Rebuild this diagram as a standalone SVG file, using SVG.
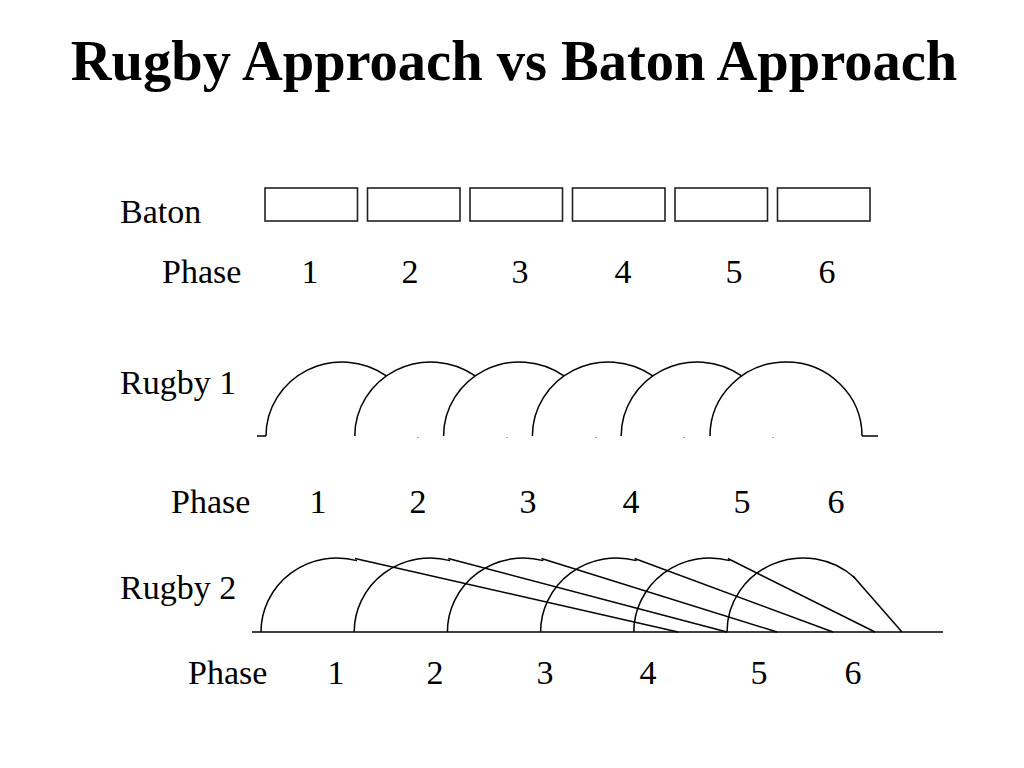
<svg xmlns="http://www.w3.org/2000/svg" width="1024" height="768" viewBox="0 0 1024 768">
<style>
.t{font-family:"Liberation Serif","Times New Roman",serif;fill:#000}
.title{font-size:56.5px;font-weight:bold}
.lbl{font-size:34px}
.num{font-size:34px;text-anchor:middle}
.box{fill:#fff;stroke:#222;stroke-width:1.6}
.ln{fill:none;stroke:#000;stroke-width:1.5}
.dot{stroke:#aaa;stroke-width:1}
</style>
<rect width="1024" height="768" fill="#fff"/>
<g id="title"><text class="t title" x="514" y="80" text-anchor="middle">Rugby Approach vs Baton Approach</text></g>

<g id="baton">
<text class="t lbl" x="120" y="223">Baton</text>
<g id="baton-1"><rect class="box" x="265" y="188" width="92.5" height="33"/></g>
<g id="baton-2"><rect class="box" x="367.5" y="188" width="92.5" height="33"/></g>
<g id="baton-3"><rect class="box" x="470" y="188" width="92.5" height="33"/></g>
<g id="baton-4"><rect class="box" x="572.5" y="188" width="92.5" height="33"/></g>
<g id="baton-5"><rect class="box" x="675" y="188" width="92.5" height="33"/></g>
<g id="baton-6"><rect class="box" x="777.5" y="188" width="92.5" height="33"/></g>
<g id="phase-row-1">
<text class="t lbl" x="162" y="283">Phase</text>
<text class="t num" x="310" y="283">1</text>
<text class="t num" x="410" y="283">2</text>
<text class="t num" x="520" y="283">3</text>
<text class="t num" x="623" y="283">4</text>
<text class="t num" x="734" y="283">5</text>
<text class="t num" x="827" y="283">6</text>
</g>
</g>

<g id="rugby1">
<text class="t lbl" x="120" y="394">Rugby 1</text>
<g id="r1-arc-1"><path class="ln" d="M266,436 A76 74 0 0 1 386.4,375.9"/></g>
<g id="r1-arc-2"><path class="ln" d="M354.8,436 A76 74 0 0 1 475.2,375.9"/></g>
<g id="r1-arc-3"><path class="ln" d="M443.6,436 A76 74 0 0 1 564,375.9"/></g>
<g id="r1-arc-4"><path class="ln" d="M532.4,436 A76 74 0 0 1 652.8,375.9"/></g>
<g id="r1-arc-5"><path class="ln" d="M621.2,436 A76 74 0 0 1 741.6,375.9"/></g>
<g id="r1-arc-6"><path class="ln" d="M710,436 A76 74 0 0 1 862,436"/></g>
<g id="r1-ticks">
<path class="ln" d="M257,436 H266 M862,436 H878"/>
<path class="dot" d="M417,437.5 H419 M506,437.5 H508 M595,437.5 H597 M683,437.5 H685 M772,437.5 H774"/>
</g>
<g id="phase-row-2">
<text class="t lbl" x="171" y="513">Phase</text>
<text class="t num" x="318" y="513">1</text>
<text class="t num" x="418" y="513">2</text>
<text class="t num" x="528" y="513">3</text>
<text class="t num" x="631" y="513">4</text>
<text class="t num" x="742" y="513">5</text>
<text class="t num" x="836" y="513">6</text>
</g>
</g>

<g id="rugby2">
<text class="t lbl" x="120" y="599">Rugby 2</text>
<g id="r2-baseline"><path class="ln" d="M252,632 H943"/></g>
<g id="r2-arc-1"><path class="ln" d="M261,632 A76 74 0 0 1 357,560.6"/></g>
<g id="r2-arc-2"><path class="ln" d="M354.2,632 A76 74 0 0 1 450.2,560.6"/></g>
<g id="r2-arc-3"><path class="ln" d="M447.4,632 A76 74 0 0 1 543.4,560.6"/></g>
<g id="r2-arc-4"><path class="ln" d="M540.6,632 A76 74 0 0 1 636.6,560.6"/></g>
<g id="r2-arc-5"><path class="ln" d="M633.8,632 A76 74 0 0 1 729.8,560.6"/></g>
<g id="r2-arc-6"><path class="ln" d="M727,632 A76 74 0 0 1 855,578"/></g>
<g id="connectors">
<path class="ln" d="M355,558.5 L678,632"/>
<path class="ln" d="M448.2,558.5 L727,632"/>
<path class="ln" d="M541.4,558.5 L777,632"/>
<path class="ln" d="M634.6,558.5 L833,632"/>
<path class="ln" d="M727.8,558.5 L875,632"/>
<path class="ln" d="M853,576 L902,632"/>
</g>
<g id="phase-row-3">
<text class="t lbl" x="188" y="684">Phase</text>
<text class="t num" x="336" y="684">1</text>
<text class="t num" x="435" y="684">2</text>
<text class="t num" x="545" y="684">3</text>
<text class="t num" x="648" y="684">4</text>
<text class="t num" x="759" y="684">5</text>
<text class="t num" x="853" y="684">6</text>
</g>
</g>
</svg>
